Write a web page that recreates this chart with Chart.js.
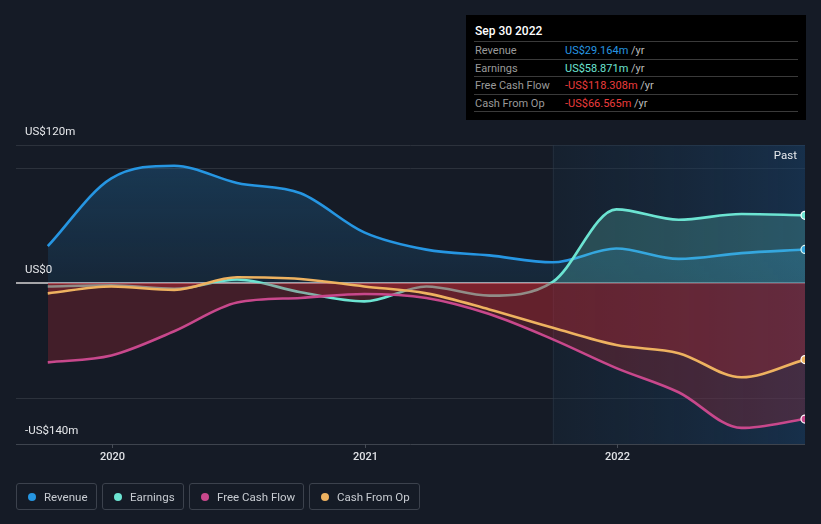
<!DOCTYPE html>
<html>
<head>
<meta charset="utf-8">
<script src="https://cdn.jsdelivr.net/npm/chart.js@4/dist/chart.umd.min.js"></script>
<style>
  html, body { margin:0; padding:0; background:#151b26; width:821px; height:524px; overflow:hidden; font-family: Roboto, "Noto Sans", Arial, sans-serif; }
  #wrap { position:absolute; left:0; top:0; width:821px; height:524px; }
  #tip { position:absolute; left:466px; top:15px; width:340px; height:105px; background:#000; color:#ddd; font-size:11px; box-sizing:border-box; }
  #tip .title { position:absolute; left:9px; top:9px; font-size:12px; font-weight:500; color:#fff; }
  #tip .row { position:absolute; left:8px; width:324px; height:17px; border-top:1px solid #3a3a3a; }
  #tip .row .lab { position:absolute; left:1px; top:2px; color:#9a9a9a; }
  #tip .row .val { position:absolute; left:91px; top:2px; }
  #tip .row .unit { color:#bbb; }
  #tip .last { position:absolute; left:8px; top:96px; width:324px; border-top:1px solid #3a3a3a; }
  #legend { position:absolute; left:16px; top:483px; height:29px; }
  .lg { position:absolute; top:0; height:27px; border:1px solid #3c424d; border-radius:3px; box-sizing:border-box; color:#c8ccd2; font-size:11.5px; }
  .lg .dot { position:absolute; left:11px; top:9px; width:8px; height:8px; border-radius:50%; }
  .lg .txt { position:absolute; left:27px; top:6px; white-space:nowrap; }
</style>
</head>
<body>
<div id="wrap"><canvas id="c" width="821" height="524"></canvas></div>
<div id="tip"></div>
<div id="legend"></div>
<script>
// ---- data ----
const dates = ['2019-09-30','2019-12-31','2020-03-31','2020-06-30','2020-09-30','2020-12-31','2021-03-31','2021-06-30','2021-09-30','2021-12-31','2022-03-31','2022-06-30','2022-09-30'];
const revenue = [32, 91, 102, 87, 78, 44, 29, 24, 18, 30, 21, 26, 29.164];
const earnings = [-3, -2, -5, 3, -8, -16, -3, -11, 1, 64, 55, 60, 58.871];
const freeCashFlow = [-69, -63, -42, -17, -13, -9.5, -13, -27, -49, -74, -95, -126, -118.308];
const cashFromOp = [-9, -3, -6, 5, 3.5, -3, -9, -23, -39, -54, -61, -82, -66.565];
const seriesNames = ['Revenue', 'Earnings', 'Free Cash Flow', 'Cash From Op'];
const yTickValues = [120, 0, -140];
const yTickLabels = ['US$120m', 'US$0', '-US$140m'];
const yGridValues = [120, 100, 0, -100, -140];
const xTickDates = ['2020-01-01', '2021-01-01', '2022-01-01'];
const xTickLabels = ['2020', '2021', '2022'];
const xMinDate = '2019-08-15';
const pastStartDate = '2021-09-30';
const tipTitle = 'Sep 30 2022';
const tipValues = ['US$29.164m', 'US$58.871m', '-US$118.308m', '-US$66.565m'];

const colors = {
  'Revenue': 'rgb(38,150,226)',
  'Earnings': 'rgb(108,228,210)',
  'Free Cash Flow': 'rgb(200,72,140)',
  'Cash From Op': 'rgb(238,178,96)'
};
const redFill = 'rgba(190,42,52,0.27)';

const ts = dates.map(d => Date.parse(d));
function pts(arr) { return arr.map((v, i) => ({ x: ts[i], y: v })); }
const seriesData = [revenue, earnings, freeCashFlow, cashFromOp];
const drawOrder = [3, 2, 1, 0];
const last = dates.length - 1;

function aboveFill(name) {
  return function (ctx) {
    const chart = ctx.chart;
    const a = chart.chartArea;
    if (!a) return 'rgba(0,0,0,0)';
    if (name === 'Revenue') {
      const y0 = chart.scales.y.getPixelForValue(0);
      const g = chart.ctx.createLinearGradient(0, a.top, 0, y0);
      g.addColorStop(0, 'rgba(38,150,226,0.26)');
      g.addColorStop(1, 'rgba(38,150,226,0.10)');
      return g;
    }
    if (name === 'Earnings') return 'rgba(108,228,210,0.22)';
    return 'rgba(0,0,0,0)';
  };
}

const datasets = seriesNames.map((name, i) => ({
  label: name,
  data: pts(seriesData[i]),
  borderColor: colors[name],
  backgroundColor: colors[name],
  borderWidth: 2.6,
  cubicInterpolationMode: 'monotone',
  fill: { target: 'origin', above: aboveFill(name)({ chart: { chartArea: null } }), below: redFill },
  pointRadius: ctx => ctx.dataIndex === last ? 4 : 0,
  pointHoverRadius: 0,
  pointBorderColor: '#ffffff',
  pointBorderWidth: 1.2,
  pointBackgroundColor: colors[name],
  order: drawOrder[i]
}));

const decor = {
  id: 'decor',
  beforeDatasetsDraw(chart) {
    const { ctx, chartArea: a, scales: { x } } = chart;
    const px = x.getPixelForValue(Date.parse(pastStartDate));
    ctx.save();
    const g = ctx.createLinearGradient(px, 0, a.right, 0);
    g.addColorStop(0, 'rgba(25,45,65,0.35)');
    g.addColorStop(1, 'rgba(25,65,105,0.55)');
    ctx.fillStyle = g;
    ctx.fillRect(px, a.top, a.right - px, a.bottom - a.top);
    ctx.strokeStyle = 'rgba(50,62,76,0.5)';
    ctx.lineWidth = 1;
    ctx.beginPath(); ctx.moveTo(px + 0.5, a.top); ctx.lineTo(px + 0.5, a.bottom); ctx.stroke();
    ctx.restore();
  },
  afterDraw(chart) {
    const { ctx, chartArea: a, scales: { x, y } } = chart;
    ctx.save();
    ctx.font = '11.5px Roboto, "Noto Sans", sans-serif';
    ctx.fillStyle = '#e6e8eb';
    ctx.textAlign = 'left';
    ctx.textBaseline = 'middle';
    yTickValues.forEach((v, i) => {
      ctx.fillText(yTickLabels[i], 25, y.getPixelForValue(v) - 13);
    });
    ctx.textAlign = 'center';
    ctx.font = '500 11px Roboto, "Noto Sans", sans-serif';
    ctx.fillStyle = '#e0e2e6';
    ctx.strokeStyle = 'rgb(70,76,86)';
    ctx.lineWidth = 1;
    xTickDates.forEach((d, i) => {
      const px = Math.round(x.getPixelForValue(Date.parse(d))) + 0.5;
      ctx.beginPath(); ctx.moveTo(px, a.bottom); ctx.lineTo(px, a.bottom + 4); ctx.stroke();
      ctx.fillText(xTickLabels[i], px, a.bottom + 13);
    });
    ctx.textAlign = 'right';
    ctx.font = '11.5px Roboto, "Noto Sans", sans-serif';
    ctx.fillStyle = '#e8eaee';
    ctx.fillText('Past', a.right - 8, a.top + 11);
    ctx.restore();
  }
};

const chart = new Chart(document.getElementById('c'), {
  type: 'line',
  data: { datasets },
  options: {
    responsive: false,
    animation: false,
    events: [],
    layout: { padding: { left: 16, right: 16, top: 145, bottom: 80 } },
    plugins: { legend: { display: false }, tooltip: { enabled: false }, filler: { drawTime: 'beforeDatasetDraw' } },
    scales: {
      x: {
        type: 'linear',
        min: Date.parse(xMinDate),
        max: ts[last],
        ticks: { display: false },
        grid: { display: false, drawTicks: false },
        border: { display: false }
      },
      y: {
        min: -140, max: 120,
        afterBuildTicks: s => { s.ticks = yGridValues.map(v => ({ value: v })); },
        ticks: { display: false },
        grid: {
          drawTicks: false,
          tickLength: 0,
          color: c => c.tick.value === 0 ? 'rgb(165,165,168)' : (c.tick.value === -140 ? 'rgb(62,68,78)' : 'rgb(44,50,60)'),
          lineWidth: c => c.tick.value === 0 ? 2 : 1
        },
        border: { display: false }
      }
    }
  },
  plugins: [decor]
});
// apply gradient fills now that the chart area is known
chart.data.datasets.forEach((ds, i) => {
  ds.fill = { target: 'origin', above: aboveFill(seriesNames[i])({ chart }), below: redFill };
});
chart.update();

// tooltip box (HTML)
const tip = document.getElementById('tip');
let html = '<div class="title">' + tipTitle + '</div>';
const valColors = ['rgb(38,150,226)', 'rgb(108,228,210)', 'rgb(235,60,60)', 'rgb(235,60,60)'];
seriesNames.forEach((n, i) => {
  html += '<div class="row" style="top:' + (26 + i * 17.5) + 'px"><span class="lab">' + n + '</span><span class="val"><span style="color:' + valColors[i] + '">' + tipValues[i] + '</span> <span class="unit">/yr</span></span></div>';
});
html += '<div class="last"></div>';
tip.innerHTML = html;

// legend (HTML)
const lg = document.getElementById('legend');
const lgLeft = [0, 86, 173, 293];
const lgWidth = [81, 82, 115, 111];
seriesNames.forEach((n, i) => {
  const d = document.createElement('div');
  d.className = 'lg';
  d.style.left = lgLeft[i] + 'px';
  d.style.width = lgWidth[i] + 'px';
  d.innerHTML = '<span class="dot" style="background:' + colors[n] + '"></span><span class="txt">' + n + '</span>';
  lg.appendChild(d);
});
</script>
</body>
</html>
